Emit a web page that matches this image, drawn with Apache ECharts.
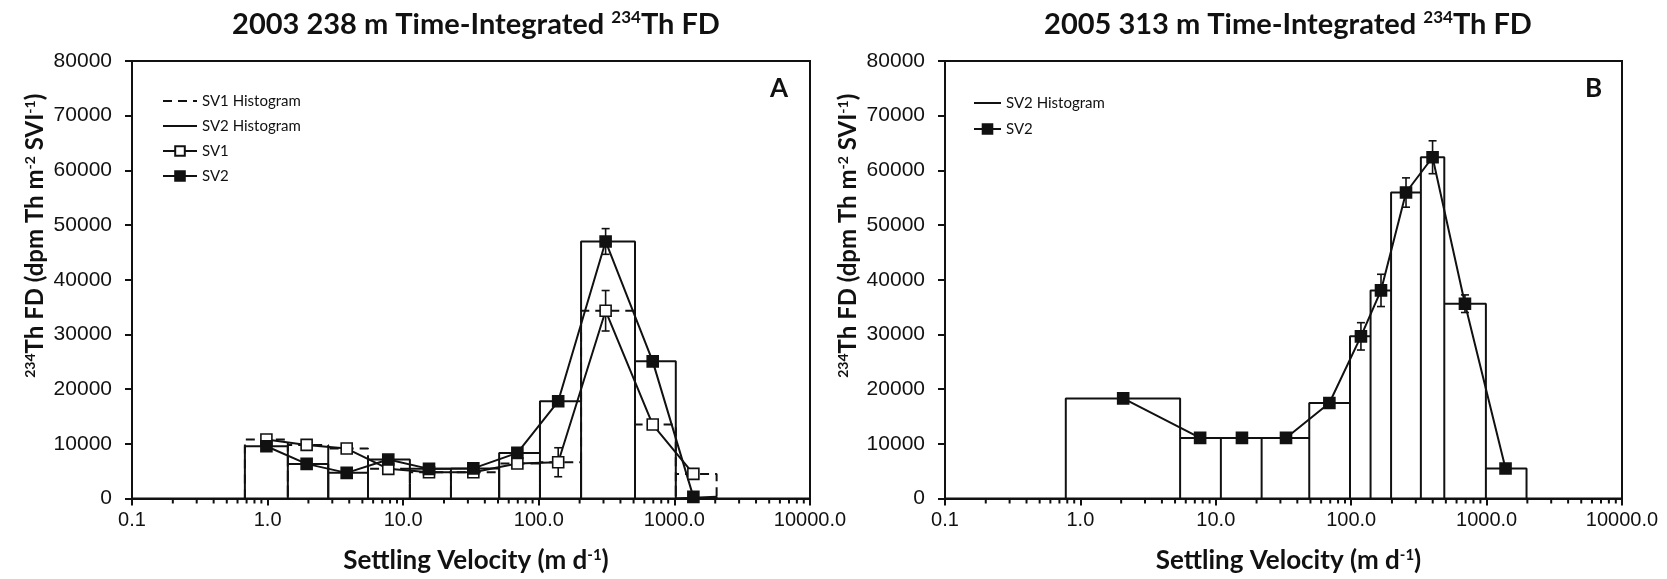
<!DOCTYPE html>
<html>
<head>
<meta charset="utf-8">
<script src="https://cdn.jsdelivr.net/npm/echarts@6/dist/echarts.min.js"></script>
<style>
  html, body { margin: 0; padding: 0; background: #fff; }
  #chart { width: 1667px; height: 579px; }
</style>
</head>
<body>
<div id="chart"></div>
<script>
"use strict";

// ---- panel A: 2003, 238 m ----
const binEdgesA = [0.68, 1.41, 2.8, 5.5, 11.2, 22.5, 51, 102, 205, 512, 1024, 2048];
const velocityA = [0.98, 1.94, 3.83, 7.76, 15.5, 32.9, 69.5, 139, 311, 692, 1380];
const sv1FluxA = [10800, 9800, 9130, 5420, 4800, 4800, 6390, 6630, 34330, 13520, 4500];
const sv1ErrA = [0, 0, 0, 0, 0, 0, 0, 2650, 3700, 800, 0];
const sv2FluxA = [9550, 6330, 4690, 7120, 5420, 5500, 8340, 17770, 47000, 25080, 300];
const sv2ErrA = [0, 0, 0, 0, 0, 0, 0, 0, 2350, 600, 0];

// ---- panel B: 2005, 313 m ----
const binEdgesB = [0.78, 5.45, 10.9, 21.8, 49, 98, 139, 197, 327, 487, 988, 1972];
const velocityB = [2.07, 7.66, 15.6, 33, 69, 118, 166, 254, 399, 692, 1380];
const sv2FluxB = [18300, 11080, 11080, 11080, 17470, 29650, 38050, 55950, 62400, 35620, 5480];
const sv2ErrB = [0, 900, 800, 0, 700, 2500, 2950, 2680, 3010, 1610, 0];

const xTickLabels = ['0.1', '1.0', '10.0', '100.0', '1000.0', '10000.0'];
const decades = [0.1, 1, 10, 100, 1000];
const minorSteps = [2, 3, 4, 5, 6, 7, 8, 9];

const INK = '#111';
const TITLE_FONT = 'Lato, "Open Sans", sans-serif';
const TICK_FONT = 'Arial, "Liberation Sans", sans-serif';

(function () {

    function histogramPath(edges, values) {
        let pts = [];
        for (let i = 0; i < values.length; i++) {
            pts.push([edges[i], 0], [edges[i], values[i]], [edges[i + 1], values[i]], [edges[i + 1], 0]);
        }
        return pts;
    }

    function pairs(xs, ys) {
        return xs.map((x, i) => [x, ys[i]]);
    }

    function errorData(xs, ys, errs) {
        return xs.map((x, i) => [x, ys[i], errs[i]]).filter(d => d[2] > 0);
    }

    // log-axis minor tick positions (2..9 within each decade)
    let minorTickValues = [];
    decades.forEach(d => minorSteps.forEach(k => minorTickValues.push([k * d, 0])));

    function renderErrorBar(params, api) {
        let x = api.value(0), y = api.value(1), e = api.value(2);
        let hi = api.coord([x, y + e]);
        let lo = api.coord([x, y - e]);
        let w = 4;
        let style = { stroke: INK, lineWidth: 1.6 };
        return {
            type: 'group',
            children: [
                { type: 'line', shape: { x1: hi[0], y1: hi[1], x2: lo[0], y2: lo[1] }, style: style },
                { type: 'line', shape: { x1: hi[0] - w, y1: hi[1], x2: hi[0] + w, y2: hi[1] }, style: style },
                { type: 'line', shape: { x1: lo[0] - w, y1: lo[1], x2: lo[0] + w, y2: lo[1] }, style: style }
            ]
        };
    }

    function renderMinorTick(params, api) {
        let p = api.coord([api.value(0), 0]);
        return {
            type: 'line',
            shape: { x1: p[0], y1: p[1], x2: p[0], y2: p[1] + 5 },
            style: { stroke: INK, lineWidth: 2 }
        };
    }

    const nameRich = {
        b: { fontFamily: TITLE_FONT, fontWeight: 'bold', fontSize: 24, color: INK },
        s: { fontFamily: TITLE_FONT, fontWeight: 'bold', fontSize: 14, color: INK, verticalAlign: 'bottom', padding: [0, 0, 11, 0] }
    };
    const xNameRich = {
        b: { fontFamily: TITLE_FONT, fontWeight: 'bold', fontSize: 26, color: INK },
        s: { fontFamily: TITLE_FONT, fontWeight: 'bold', fontSize: 15, color: INK, verticalAlign: 'bottom', padding: [0, 0, 12, 0] }
    };

    function xAxis(gridIndex) {
        return {
            type: 'log',
            logBase: 10,
            gridIndex: gridIndex,
            min: 0.1,
            max: 10000,
            name: '{b|Settling Velocity (m d}{s|-1}{b|)}',
            nameLocation: 'middle',
            nameGap: 49,
            nameTextStyle: { padding: [0, 0, 0, 10], rich: xNameRich },
            axisLine: { lineStyle: { color: INK, width: 2 } },
            axisTick: { show: true, inside: false, length: 7, lineStyle: { color: INK, width: 2 } },
            splitLine: { show: false },
            axisLabel: {
                margin: 12,
                fontFamily: TICK_FONT,
                fontSize: 20,
                color: INK,
                formatter: function (v) {
                    let i = Math.round(Math.log10(v)) + 1;
                    return xTickLabels[i] !== undefined ? xTickLabels[i] : '';
                }
            }
        };
    }

    function yAxis(gridIndex) {
        return {
            type: 'value',
            gridIndex: gridIndex,
            min: 0,
            max: 80000,
            interval: 10000,
            name: '{s|234}{b|Th FD (dpm Th m}{s|-2}{b| SVI}{s|-1}{b|)}',
            nameLocation: 'middle',
            nameRotate: 90,
            nameGap: 84,
            nameTextStyle: { padding: [0, 0, 0, 88], rich: nameRich },
            axisLine: { show: true, lineStyle: { color: INK, width: 2 } },
            axisTick: { show: true, inside: false, length: 7, lineStyle: { color: INK, width: 2 } },
            splitLine: { show: false },
            axisLabel: {
                margin: 20, fontFamily: TICK_FONT, fontSize: 21, color: INK,
                formatter: v => String(v)
            }
        };
    }

    function titleText(label, cx) {
        return {
            text: '{t|' + label + ' }{s|234}{t|Th FD}',
            left: cx,
            textAlign: 'center',
            top: 4,
            textStyle: {
                rich: {
                    t: { fontFamily: TITLE_FONT, fontWeight: 'bold', fontSize: 29, color: INK },
                    s: { fontFamily: TITLE_FONT, fontWeight: 'bold', fontSize: 17, color: INK, verticalAlign: 'bottom', padding: [0, 0, 14, 0] }
                }
            }
        };
    }

    function histogramSeries(name, idx, edges, values, dashed) {
        return {
            name: name,
            type: 'line',
            xAxisIndex: idx,
            yAxisIndex: idx,
            data: histogramPath(edges, values),
            symbol: 'none',
            z: 2,
            lineStyle: { color: INK, width: 2, type: dashed ? [9, 6] : 'solid' },
            // transparent so the legend shows only the line
            itemStyle: { color: 'rgba(0,0,0,0)' }
        };
    }

    function pointSeries(name, idx, xs, ys, filled) {
        return {
            name: name,
            type: 'line',
            xAxisIndex: idx,
            yAxisIndex: idx,
            data: pairs(xs, ys),
            symbol: 'rect',
            symbolSize: 11,
            showAllSymbol: true,
            z: 5,
            lineStyle: { color: INK, width: 2 },
            itemStyle: { color: filled ? INK : '#fff', borderColor: INK, borderWidth: 1.6 }
        };
    }

    function errorSeries(idx, data) {
        return {
            type: 'custom',
            xAxisIndex: idx,
            yAxisIndex: idx,
            data: data,
            z: 4,
            encode: { x: 0, y: 1 },
            renderItem: renderErrorBar
        };
    }

    function minorTickSeries(idx) {
        return {
            type: 'custom',
            xAxisIndex: idx,
            yAxisIndex: idx,
            data: minorTickValues,
            clip: false,
            silent: true,
            z: 10,
            encode: { x: 0, y: 1 },
            renderItem: renderMinorTick
        };
    }

    const legendText = { fontFamily: TITLE_FONT, fontSize: 15, color: INK, lineHeight: 16 };
    const labelStyle = { fontFamily: TITLE_FONT, fontWeight: 'bold', fontSize: 26, color: INK };

    let chart = echarts.init(document.getElementById('chart'), null, { renderer: 'canvas' });

    chart.setOption({
        animation: false,
        backgroundColor: '#fff',
        title: [
            titleText('2003 238 m Time-Integrated', 471),
            titleText('2005 313 m Time-Integrated', 1283),
            { text: 'A', left: 765, top: 71, textStyle: labelStyle },
            { text: 'B', left: 1580, top: 71, textStyle: labelStyle }
        ],
        grid: [
            { left: 132, right: 857, top: 61, bottom: 80, show: true, borderColor: INK, borderWidth: 2, backgroundColor: 'transparent' },
            { left: 945, right: 45, top: 61, bottom: 80, show: true, borderColor: INK, borderWidth: 2, backgroundColor: 'transparent' }
        ],
        legend: [
            {
                orient: 'vertical', left: 162, top: 93, padding: 0, itemWidth: 34, itemHeight: 12, itemGap: 9,
                textStyle: legendText, selectedMode: false,
                data: ['SV1 Histogram', 'SV2 Histogram', 'SV1', 'SV2']
            },
            {
                orient: 'vertical', left: 973, top: 95, padding: 0, itemWidth: 27, itemHeight: 12, itemGap: 10,
                textStyle: legendText, selectedMode: false,
                data: ['SV2 Histogram', 'SV2']
            }
        ],
        xAxis: [xAxis(0), xAxis(1)],
        yAxis: [yAxis(0), yAxis(1)],
        series: [
            minorTickSeries(0),
            minorTickSeries(1),

            histogramSeries('SV1 Histogram', 0, binEdgesA, sv1FluxA, true),
            histogramSeries('SV2 Histogram', 0, binEdgesA, sv2FluxA, false),
            errorSeries(0, errorData(velocityA, sv1FluxA, sv1ErrA)),
            errorSeries(0, errorData(velocityA, sv2FluxA, sv2ErrA)),
            pointSeries('SV1', 0, velocityA, sv1FluxA, false),
            pointSeries('SV2', 0, velocityA, sv2FluxA, true),

            histogramSeries('SV2 Histogram', 1, binEdgesB, sv2FluxB, false),
            errorSeries(1, errorData(velocityB, sv2FluxB, sv2ErrB)),
            pointSeries('SV2', 1, velocityB, sv2FluxB, true)
        ]
    });

    window.Chart = chart;
})();
</script>
</body>
</html>
